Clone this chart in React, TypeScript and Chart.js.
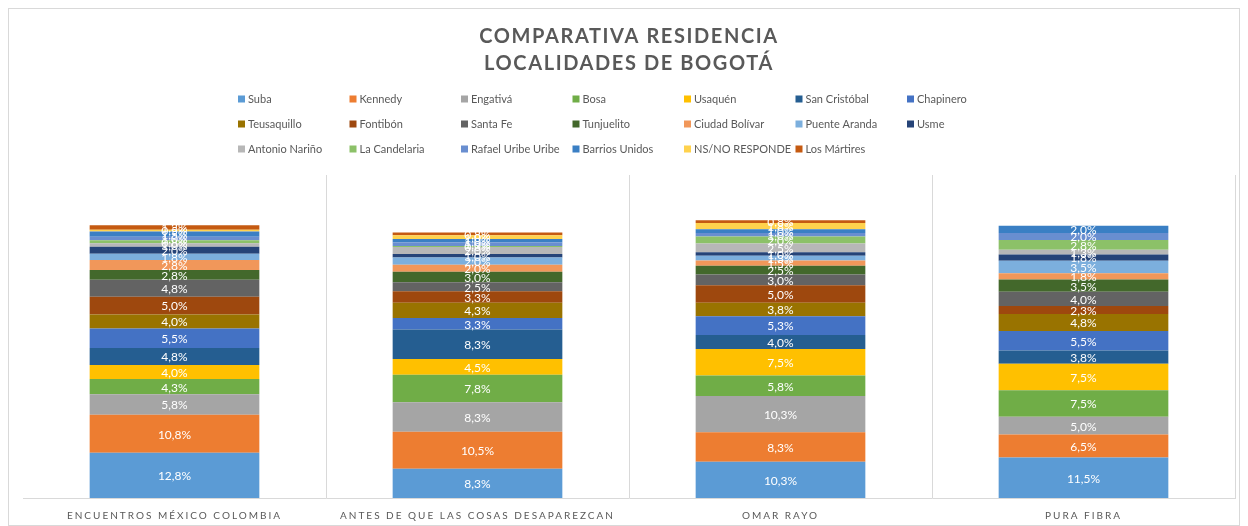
import { useEffect, useRef } from 'react';
import { Chart, registerables } from 'chart.js';

Chart.register(...registerables);

// ---- Data ----
const CATEGORIES = [
  'ENCUENTROS MÉXICO COLOMBIA',
  'ANTES DE QUE LAS COSAS DESAPAREZCAN',
  'OMAR RAYO',
  'PURA FIBRA',
];

const SERIES_NAMES = [
  'Suba', 'Kennedy', 'Engativá', 'Bosa', 'Usaquén', 'San Cristóbal', 'Chapinero',
  'Teusaquillo', 'Fontibón', 'Santa Fe', 'Tunjuelito', 'Ciudad Bolívar', 'Puente Aranda', 'Usme',
  'Antonio Nariño', 'La Candelaria', 'Rafael Uribe Uribe', 'Barrios Unidos', 'NS/NO RESPONDE', 'Los Mártires',
];

const SUBA = [12.8, 8.3, 10.3, 11.5];
const KENNEDY = [10.8, 10.5, 8.3, 6.5];
const ENGATIVA = [5.8, 8.3, 10.3, 5.0];
const BOSA = [4.3, 7.8, 5.8, 7.5];
const USAQUEN = [4.0, 4.5, 7.5, 7.5];
const SAN_CRISTOBAL = [4.8, 8.3, 4.0, 3.8];
const CHAPINERO = [5.5, 3.3, 5.3, 5.5];
const TEUSAQUILLO = [4.0, 4.3, 3.8, 4.8];
const FONTIBON = [5.0, 3.3, 5.0, 2.3];
const SANTA_FE = [4.8, 2.5, 3.0, 4.0];
const TUNJUELITO = [2.8, 3.0, 2.5, 3.5];
const CIUDAD_BOLIVAR = [2.8, 2.0, 1.5, 1.8];
const PUENTE_ARANDA = [1.8, 2.0, 1.3, 3.5];
const USME = [2.0, 1.0, 1.0, 1.8];
const ANTONIO_NARINO = [1.0, 2.0, 2.5, 1.3];
const LA_CANDELARIA = [0.8, 0.3, 2.0, 2.8];
const RAFAEL_URIBE = [1.0, 1.0, 1.0, 2.0];
const BARRIOS_UNIDOS = [1.5, 1.0, 1.0, 2.0];
const NS_NO_RESPONDE = [0.5, 1.0, 1.8, 0];
const LOS_MARTIRES = [1.3, 0.8, 0.8, 0];

const SERIES_VALUES = [
  SUBA, KENNEDY, ENGATIVA, BOSA, USAQUEN, SAN_CRISTOBAL, CHAPINERO,
  TEUSAQUILLO, FONTIBON, SANTA_FE, TUNJUELITO, CIUDAD_BOLIVAR, PUENTE_ARANDA, USME,
  ANTONIO_NARINO, LA_CANDELARIA, RAFAEL_URIBE, BARRIOS_UNIDOS, NS_NO_RESPONDE, LOS_MARTIRES,
];

const COLORS = [
  '#5B9BD5', '#ED7D31', '#A5A5A5', '#70AD47', '#FFC000', '#255E91', '#4472C4',
  '#997300', '#9E480E', '#636363', '#43682B', '#F1975A', '#7CAFDD', '#264478',
  '#B7B7B7', '#8CC168', '#698ED0', '#3A7FC4', '#FFD24D', '#C55A11',
];

const TITLE_LINES = ['COMPARATIVA RESIDENCIA', 'LOCALIDADES DE BOGOTÁ'];

const fmt = (v: number) => v.toFixed(1).replace('.', ',') + '%';

const overlay = {
  id: 'overlay',
  beforeDraw(chart: any) {
    (chart.ctx as any).letterSpacing = '2px';
  },
  beforeDatasetsDraw(chart: any) {
    (chart.ctx as any).letterSpacing = '0px';
  },
  afterDatasetsDraw(chart: any) {
    const ctx = chart.ctx as CanvasRenderingContext2D;
    ctx.save();
    (ctx as any).letterSpacing = '0px';
    ctx.font = '12px Lato';
    ctx.fillStyle = '#FFFFFF';
    ctx.textAlign = 'center';
    ctx.textBaseline = 'middle';
    chart.data.datasets.forEach((ds: any, i: number) => {
      const meta = chart.getDatasetMeta(i);
      meta.data.forEach((el: any, j: number) => {
        const v = ds.data[j];
        if (!v) return;
        const p = el.getProps(['x', 'y', 'base'], true);
        ctx.fillText(fmt(v), p.x, (p.y + p.base) / 2 + 1);
      });
    });
    ctx.restore();
  },
  afterDraw(chart: any) {
    const ctx = chart.ctx as CanvasRenderingContext2D;
    const area = chart.chartArea;
    ctx.save();
    // Title
    (ctx as any).letterSpacing = '1.6px';
    ctx.font = 'bold 20px Lato';
    ctx.fillStyle = '#595959';
    ctx.textAlign = 'center';
    ctx.textBaseline = 'middle';
    const cx = (area.left + area.right) / 2;
    TITLE_LINES.forEach((t, k) => ctx.fillText(t, cx, 29 + k * 27));
    // Legend
    (ctx as any).letterSpacing = '0px';
    ctx.font = '11px Lato';
    ctx.textAlign = 'left';
    chart.data.datasets.forEach((ds: any, i: number) => {
      const r = Math.floor(i / 7);
      const c = i % 7;
      const x = 230 + c * 111.5;
      const y = 91 + r * 25;
      ctx.fillStyle = ds.backgroundColor;
      ctx.fillRect(x, y - 3.5, 7, 7);
      ctx.fillStyle = '#595959';
      ctx.fillText(ds.label, x + 10, y + 0.5);
    });
    ctx.restore();
  },
};

export default function App() {
  const ref = useRef<HTMLCanvasElement>(null);
  useEffect(() => {
    document.body.style.overflow = 'hidden';
    const chart = new Chart(ref.current!, {
      type: 'bar',
      data: {
        labels: CATEGORIES,
        datasets: SERIES_NAMES.map((name, i) => ({
          label: name,
          data: SERIES_VALUES[i],
          backgroundColor: COLORS[i],
          borderWidth: 0,
          barPercentage: 0.56,
          categoryPercentage: 1,
        })),
      },
      options: {
        responsive: false,
        animation: false,
        devicePixelRatio: 1,
        layout: { padding: { top: 167, left: 15, right: 5, bottom: 7 } },
        plugins: {
          legend: { display: false },
          title: { display: false },
          tooltip: { enabled: false },
        },
        scales: {
          x: {
            stacked: true,
            grid: {
              offset: true,
              drawTicks: false,
              color: (c: any) => (c.index === 0 || c.index === 4 ? 'rgba(0,0,0,0)' : '#D9D9D9'),
            },
            border: { color: '#D9D9D9' },
            ticks: {
              color: '#595959',
              font: { family: 'Lato', size: 10, lineHeight: 1 },
              padding: 13,
              maxRotation: 0,
              autoSkip: false,
            },
          },
          y: {
            stacked: true,
            display: false,
            min: 0,
            max: 91.5,
          },
        },
      },
      plugins: [overlay],
    } as any);
    return () => chart.destroy();
  }, []);
  return (
    <div style={{ position: 'relative', width: 1232, height: 518, overflow: 'hidden' }}>
      <canvas ref={ref} width={1232} height={533} style={{ display: 'block' }} />
      <div
        style={{
          position: 'absolute',
          left: 0,
          top: 0,
          right: 0,
          bottom: 0,
          border: '1px solid #D9D9D9',
          pointerEvents: 'none',
        }}
      />
    </div>
  );
}
